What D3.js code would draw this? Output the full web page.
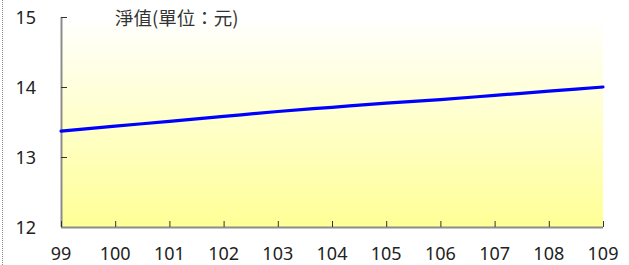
<!DOCTYPE html>
<html><head><meta charset="utf-8">
<script src="https://cdn.jsdelivr.net/npm/d3@7"></script>
<style>html,body{margin:0;padding:0;background:#fff;}svg{display:block;}</style>
</head><body>
<svg id="c" width="629" height="265"></svg>
<script>
const years = [99,100,101,102,103,104,105,106,107,108,109];
const navValues = [13.37,13.44,13.51,13.58,13.65,13.71,13.77,13.82,13.88,13.94,14.00];
const yTicks = [12,13,14,15];
const title = "淨值(單位：元)";

const svg = d3.select("#c");
const m = {l:61, r:603, t:17, b:227};
const x = d3.scaleLinear().domain([99,109]).range([m.l, m.r]);
const y = d3.scaleLinear().domain([12,15]).range([m.b, m.t]);

const defs = svg.append("defs");
const g = defs.append("linearGradient").attr("id","bg").attr("x1",0).attr("y1",0).attr("x2",0).attr("y2",1);
g.append("stop").attr("offset","0%").attr("stop-color","#ffffff");
g.append("stop").attr("offset","100%").attr("stop-color","#ffff96");

// dotted left border
svg.append("line").attr("x1",2.5).attr("x2",2.5).attr("y1",0).attr("y2",265)
  .attr("stroke","#888").attr("stroke-dasharray","1,1").attr("stroke-width",1);

svg.append("rect").attr("x",m.l).attr("y",m.t).attr("width",m.r-m.l).attr("height",m.b-m.t)
  .attr("fill","url(#bg)");

const font = "'Noto Sans', 'Open Sans', sans-serif";

// y axis
const ya = svg.append("g").attr("transform",`translate(${m.l},0)`)
  .call(d3.axisRight(y).tickValues(yTicks).tickSize(6).tickFormat(""));
ya.select(".domain").attr("stroke","#8c8c8c").attr("stroke-width",2).attr("d",`M0.5,${m.t}V${m.b}`);
ya.selectAll(".tick line").attr("stroke","#333");
svg.append("g").selectAll("text").data(yTicks).join("text")
  .attr("x",36).attr("y",d=>y(d)+6.5).attr("text-anchor","end")
  .attr("font-family",font).attr("font-size",18).attr("fill","#222").text(d=>d);

// x axis
const xa = svg.append("g").attr("transform",`translate(0,${m.b})`)
  .call(d3.axisTop(x).tickValues(years).tickSize(6).tickFormat(""));
xa.select(".domain").attr("stroke","#8c8c8c").attr("stroke-width",2).attr("d",`M${m.l},0.5H${m.r}`);
xa.selectAll(".tick line").attr("stroke","#333");
svg.append("g").selectAll("text").data(years).join("text")
  .attr("x",d=>x(d)).attr("y",260).attr("text-anchor","middle")
  .attr("font-family",font).attr("font-size",18).attr("fill","#222").text(d=>d);

// line
svg.append("path").datum(years.map((yr,i)=>[yr,navValues[i]]))
  .attr("d", d3.line().x(d=>x(d[0])).y(d=>y(d[1])).curve(d3.curveMonotoneX))
  .attr("fill","none").attr("stroke","#0000ff").attr("stroke-width",3.2).attr("stroke-linecap","round");

// title
svg.append("text").attr("x",115).attr("y",25)
  .attr("font-family","'Noto Sans CJK TC', 'Noto Sans', sans-serif").attr("font-size",18.5)
  .attr("fill","#333").text(title);
</script>
</body></html>
